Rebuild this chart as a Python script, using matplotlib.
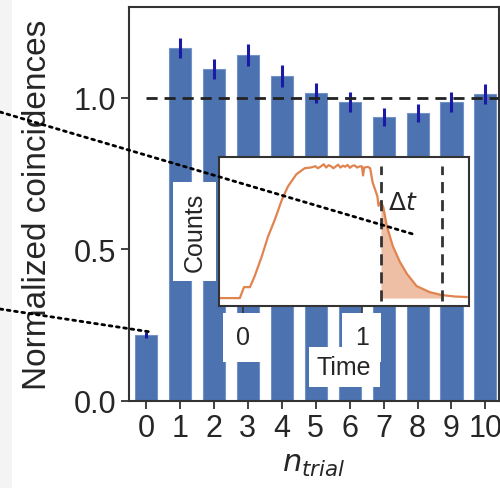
import numpy as np
import matplotlib
matplotlib.use("Agg")
import matplotlib.pyplot as plt
from matplotlib.patches import Rectangle, ConnectionPatch

plt.rcParams['font.family'] = ['Liberation Sans', 'DejaVu Sans']
plt.rcParams['mathtext.fontset'] = 'dejavusans'

# coincidences per trial
n_trial = [0, 1, 2, 3, 4, 5, 6, 7, 8, 9, 10]
coinc = [0.217, 1.164, 1.095, 1.141, 1.072, 1.016, 0.987, 0.938, 0.951, 0.987, 1.013]
coinc_err = [0.010, 0.033, 0.033, 0.036, 0.036, 0.032, 0.033, 0.030, 0.030, 0.033, 0.033]

# inset pulse shape
t_pulse = [-0.20, -0.025, 0.01, 0.06, 0.10, 0.16, 0.21, 0.27, 0.33, 0.38, 0.45,
           0.52, 0.57, 0.61, 0.63, 0.65, 0.68, 0.70, 0.72, 0.74, 0.76, 0.78,
           0.80, 0.82, 0.84, 0.86, 0.88, 0.90, 0.92, 0.94, 0.96, 0.98, 1.00,
           1.01, 1.02, 1.05, 1.07, 1.09, 1.13, 1.14, 1.16, 1.18, 1.21, 1.26,
           1.32, 1.38, 1.46, 1.57, 1.67, 1.78, 1.88]
counts = [0.0, 0.0, 0.083, 0.083, 0.167, 0.318, 0.462, 0.598, 0.75, 0.848, 0.939,
          0.985, 0.99, 1.0, 0.985, 0.995, 1.015, 0.99, 1.008, 1.0, 0.985, 0.997,
          1.012, 0.99, 1.004, 0.996, 1.01, 0.988, 1.003, 1.006, 0.99, 0.998, 1.0,
          0.93, 0.99, 0.995, 0.985, 0.879, 0.773, 0.70, 0.73, 0.69, 0.545, 0.394,
          0.273, 0.182, 0.091, 0.045, 0.023, 0.012, 0.008]
window = [1.16, 1.67]

fig = plt.figure(figsize=(5.0, 4.89), dpi=100)

# light strip left over from the full figure
fig.add_artist(Rectangle((0, 0), 12 / 500, 1, transform=fig.transFigure,
                         facecolor='#f4f4f4', edgecolor='none', zorder=-1))

ax = fig.add_axes([129 / 500, 87 / 489, 370 / 500, 394 / 489])
ax.bar(n_trial, coinc, width=0.65, color='#4c72b0', edgecolor='#7393c8',
       linewidth=0.8, zorder=2)
ax.errorbar(n_trial, coinc, yerr=coinc_err, fmt='none', ecolor='#1a1aa6',
            elinewidth=2.2, capsize=0, zorder=3)
ax.hlines(1.0, 0, 10.5, colors='#222222', linestyles=(0, (4, 2.5)),
          linewidth=2, zorder=4)

ax.set_xlim(-0.5, 10.4)
ax.set_ylim(0, 1.3)
ax.set_xticks(n_trial)
ax.set_yticks([0.0, 0.5, 1.0])
ax.set_yticklabels(['0.0', '0.5', '1.0'])
ax.tick_params(labelsize=22, length=6, width=1.3, color='#333333', pad=3,
               labelcolor='#262626')
for s in ax.spines.values():
    s.set_color('#333333')
    s.set_linewidth(1.5)
ax.set_ylabel('Normalized coincidences', fontsize=24, color='#262626')
ax.yaxis.set_label_coords(-0.205, 0.5)
ax.set_xlabel(r'$n_{trial}$', fontsize=22, color='#262626', labelpad=3)

# inset with the pulse
ins = fig.add_axes([219 / 500, 182 / 489, 250 / 500, 149 / 489])
ins.set_facecolor('white')
ins.plot(t_pulse, counts, color='#e0834f', linewidth=1.6)
tp = np.array(t_pulse)
ins.fill_between(t_pulse, counts, 0,
                 where=(tp >= window[0]) & (tp <= window[1]),
                 color='#e9a47f', alpha=0.7, linewidth=0)
ins.vlines(window, -0.02, 1.0, colors='#333333', linestyles=(0, (4, 2.5)),
           linewidth=2)
ins.text(1.345, 0.73, r'$\Delta t$', fontsize=18, ha='center', va='center',
         color='#262626')
ins.set_xlim(-0.2, 1.9)
ins.set_ylim(-0.06, 1.07)
ins.set_xticks([0, 1])
ins.set_yticks([])
ins.tick_params(axis='x', labelsize=18, length=5, width=1.2, pad=9,
                color='#333333', labelcolor='#262626')
for lab in ins.get_xticklabels():
    lab.set_bbox(dict(facecolor='white', edgecolor='none', pad=9))
for s in ins.spines.values():
    s.set_color('#333333')
    s.set_linewidth(1.5)
ins.set_xlabel('Time', fontsize=18, color='#262626',
               bbox=dict(facecolor='white', edgecolor='none', pad=6))
ins.xaxis.set_label_coords(0.5, -0.33)
ins.set_ylabel('Counts', fontsize=18, color='#262626',
               bbox=dict(facecolor='white', edgecolor='none', pad=7))
ins.yaxis.set_label_coords(-0.05, 0.5)

# dotted zoom lines coming from the neighbouring panel
con1 = ConnectionPatch(xyA=(0, 489 - 113), coordsA='figure pixels',
                       xyB=(1.45, 0.48), coordsB=ins.transData,
                       linestyle=':', linewidth=2, color='black', zorder=10)
con2 = ConnectionPatch(xyA=(0, 489 - 310), coordsA='figure pixels',
                       xyB=(0.12, 0.228), coordsB=ax.transData,
                       linestyle=':', linewidth=2, color='black', zorder=10)
fig.add_artist(con1)
fig.add_artist(con2)

fig.savefig('out.png', dpi=100)
